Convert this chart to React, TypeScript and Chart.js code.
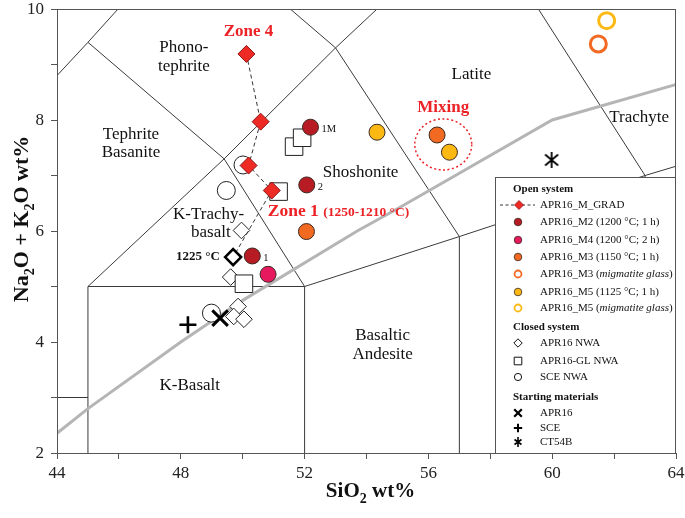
import React, { useEffect, useRef } from 'react';
import { Chart, registerables } from 'chart.js';

Chart.register(...registerables);

const FONT = '"Liberation Serif", "Times New Roman", serif';

// ---------- axes ----------
const SIO2_MIN = 44;
const SIO2_MAX = 64;
const SIO2_STEP = 2;
const SIO2_LABELS = [44, 48, 52, 56, 60, 64];
const ALK_MIN = 2;
const ALK_MAX = 10;
const ALK_STEP = 1;
const ALK_LABELS = [2, 4, 6, 8, 10];

// ---------- open system ----------
const GRAD_SIO2 = [50.12, 50.58, 50.19, 50.94];
const GRAD_ALK = [9.19, 7.97, 7.18, 6.73];
const GRAD_1225_SIO2 = [49.69];
const GRAD_1225_ALK = [5.53];
const M2_SIO2 = [52.19, 52.07, 50.31];
const M2_ALK = [7.87, 6.83, 5.55];
const M2_TAGS = ['1M', '2', '1'];
const M4_SIO2 = [50.82];
const M4_ALK = [5.22];
const M3_SIO2 = [52.06, 56.28];
const M3_ALK = [5.99, 7.73];
const M3_GLASS_SIO2 = [61.49];
const M3_GLASS_ALK = [9.37];
const M5_SIO2 = [54.34, 56.68];
const M5_ALK = [7.78, 7.42];
const M5_GLASS_SIO2 = [61.76];
const M5_GLASS_ALK = [9.79];

// ---------- closed system ----------
const NWA_SIO2 = [49.96, 49.61, 49.85, 49.71, 50.04];
const NWA_ALK = [6.01, 5.17, 4.64, 4.46, 4.41];
const GL_SIO2 = [51.66, 51.92, 51.16, 50.04];
const GL_ALK = [7.52, 7.68, 6.71, 5.05];
const SCE_NWA_SIO2 = [50.01, 49.47, 48.99];
const SCE_NWA_ALK = [7.19, 6.73, 4.52];

// ---------- starting materials ----------
const APR16_SIO2 = [49.27];
const APR16_ALK = [4.43];
const SCE_SIO2 = [48.23];
const SCE_ALK = [4.31];
const CT54B_SIO2 = [59.98];
const CT54B_ALK = [7.28];

// ---------- TAS field boundaries (SiO2, Na2O+K2O) ----------
const TAS_LINES: number[][][] = [
  [[41, 3], [45, 3]],
  [[45, 0], [45, 5]],
  [[45, 5], [52, 5]],
  [[52, 0], [52, 5]],
  [[52, 5], [57, 5.9]],
  [[57, 0], [57, 5.9]],
  [[57, 5.9], [63, 7]],
  [[63, 0], [63, 7]],
  [[63, 7], [69, 8]],
  [[45, 5], [49.4, 7.3]],
  [[49.4, 7.3], [52, 5]],
  [[49.4, 7.3], [53, 9.3]],
  [[53, 9.3], [57, 5.9]],
  [[53, 9.3], [57.6, 11.7]],
  [[57.6, 11.7], [63, 7]],
  [[41, 7], [45, 9.4]],
  [[45, 9.4], [49.4, 7.3]],
  [[45, 9.4], [48.4, 11.5]],
  [[48.4, 11.5], [53, 9.3]],
];
// Irvine & Baragar alkaline / subalkaline divide
const DIVIDE_SIO2 = [43.2, 45, 48, 50, 53.7, 55, 60, 65];
const DIVIDE_ALK = [2, 2.8, 4, 4.75, 6, 6.4, 8, 8.8];

// ---------- field names ----------
const FIELD_NAMES = ['Phono-', 'tephrite', 'Latite', 'Trachyte', 'Tephrite', 'Basanite', 'Shoshonite', 'K-Trachy-', 'basalt', 'Basaltic', 'Andesite', 'K-Basalt'];
const FIELD_SIO2 = [48.1, 48.1, 57.39, 62.81, 46.39, 46.39, 53.81, 48.9, 48.97, 54.52, 54.52, 48.29];
const FIELD_ALK = [9.3, 8.96, 8.82, 8.04, 7.74, 7.42, 7.05, 6.29, 5.97, 4.11, 3.77, 3.21];

// ---------- annotations ----------
const ZONE4_AT = [50.19, 9.59];
const ZONE1_AT = [50.81, 6.35];
const MIXING_AT = [56.48, 8.22];
const T1225_AT = [49.26, 5.54];
const MIX_ELLIPSE = [56.48, 7.56, 0.92, 0.46]; // centre SiO2, centre alk, radius SiO2, radius alk

// ---------- styles ----------
const RED = '#EC2227';
const GRAD_FILL = '#EE2A24';
const GRAD_EDGE = '#8E1313';
const M2_FILL = '#B71C24';
const M4_FILL = '#E6195F';
const M3_FILL = '#F26922';
const M5_FILL = '#FDB913';
const DARK_EDGE = '#3a2a20';
const LINE_COL = '#3a3a3a';

const pts = (xs: number[], ys: number[]) => xs.map((x, i) => ({ x, y: ys[i] }));

type Run = { t: string; size: number; bold?: boolean; italic?: boolean; dy?: number };
const runFont = (r: Run) => `${r.italic ? 'italic ' : ''}${r.bold ? 'bold ' : ''}${r.size}px ${FONT}`;
function drawRuns(ctx: CanvasRenderingContext2D, runs: Run[], x: number, y: number, align: 'left' | 'center' | 'right') {
  let w = 0;
  for (const r of runs) {
    ctx.font = runFont(r);
    w += ctx.measureText(r.t).width;
  }
  let cx = align === 'left' ? x : align === 'center' ? x - w / 2 : x - w;
  ctx.textAlign = 'left';
  for (const r of runs) {
    ctx.font = runFont(r);
    ctx.fillText(r.t, cx, y + (r.dy || 0));
    cx += ctx.measureText(r.t).width;
  }
}

function makeAsterisk(size: number, lw: number): HTMLCanvasElement {
  const c = document.createElement('canvas');
  c.width = size;
  c.height = size;
  const g = c.getContext('2d')!;
  g.strokeStyle = '#000';
  g.lineWidth = lw;
  const m = 2.5;
  g.beginPath();
  g.moveTo(m, m + 1);
  g.lineTo(size - m, size - m - 1);
  g.moveTo(size - m, m + 1);
  g.lineTo(m, size - m - 1);
  g.moveTo(size / 2, 1);
  g.lineTo(size / 2, size - 1);
  g.stroke();
  return c;
}

function drawMarker(ctx: CanvasRenderingContext2D, kind: string, x: number, y: number, o: any) {
  ctx.save();
  ctx.lineWidth = o.lw || 1;
  ctx.strokeStyle = o.stroke || '#000';
  ctx.fillStyle = o.fill || '#fff';
  ctx.beginPath();
  const r = o.r;
  if (kind === 'circle') {
    ctx.arc(x, y, r, 0, Math.PI * 2);
    ctx.fill();
    ctx.stroke();
  } else if (kind === 'diamond') {
    ctx.moveTo(x - r, y);
    ctx.lineTo(x, y - r);
    ctx.lineTo(x + r, y);
    ctx.lineTo(x, y + r);
    ctx.closePath();
    ctx.fill();
    ctx.stroke();
  } else if (kind === 'square') {
    ctx.rect(x - r, y - r, 2 * r, 2 * r);
    ctx.fill();
    ctx.stroke();
  } else if (kind === 'x') {
    ctx.moveTo(x - r, y - r);
    ctx.lineTo(x + r, y + r);
    ctx.moveTo(x + r, y - r);
    ctx.lineTo(x - r, y + r);
    ctx.stroke();
  } else if (kind === 'plus') {
    ctx.moveTo(x - r, y);
    ctx.lineTo(x + r, y);
    ctx.moveTo(x, y - r);
    ctx.lineTo(x, y + r);
    ctx.stroke();
  } else if (kind === 'image') {
    ctx.drawImage(o.img, x - r, y - r, 2 * r, 2 * r);
  }
  ctx.restore();
}

const LS = 11;
const LEGEND_ROWS: any[] = [
  { dy: 12, head: 'Open system' },
  { dy: 28, kind: 'grad', runs: [{ t: 'APR16_M_GRAD', size: LS }] },
  { dy: 45, kind: 'circle', o: { r: 3.8, fill: M2_FILL, stroke: DARK_EDGE, lw: 0.8 }, runs: [{ t: 'APR16_M2 (1200 °C; 1 h)', size: LS }] },
  { dy: 63, kind: 'circle', o: { r: 3.8, fill: M4_FILL, stroke: DARK_EDGE, lw: 0.8 }, runs: [{ t: 'APR16_M4 (1200 °C; 2 h)', size: LS }] },
  { dy: 80, kind: 'circle', o: { r: 3.8, fill: M3_FILL, stroke: DARK_EDGE, lw: 0.8 }, runs: [{ t: 'APR16_M3 (1150 °C; 1 h)', size: LS }] },
  { dy: 97, kind: 'circle', o: { r: 3.5, fill: '#fff', stroke: M3_FILL, lw: 1.8 }, runs: [{ t: 'APR16_M3 (', size: LS }, { t: 'migmatite glass', size: LS, italic: true }, { t: ')', size: LS }] },
  { dy: 115, kind: 'circle', o: { r: 3.8, fill: M5_FILL, stroke: DARK_EDGE, lw: 0.8 }, runs: [{ t: 'APR16_M5 (1125 °C; 1 h)', size: LS }] },
  { dy: 131, kind: 'circle', o: { r: 3.5, fill: '#fff', stroke: M5_FILL, lw: 1.8 }, runs: [{ t: 'APR16_M5 (', size: LS }, { t: 'migmatite glass', size: LS, italic: true }, { t: ')', size: LS }] },
  { dy: 150, head: 'Closed system' },
  { dy: 166, kind: 'diamond', o: { r: 4.2, fill: '#fff', stroke: '#111', lw: 1 }, runs: [{ t: 'APR16 NWA', size: LS }] },
  { dy: 184, kind: 'square', o: { r: 3.8, fill: '#fff', stroke: '#111', lw: 1 }, runs: [{ t: 'APR16-GL NWA', size: LS }] },
  { dy: 200, kind: 'circle', o: { r: 3.6, fill: '#fff', stroke: '#111', lw: 1 }, runs: [{ t: 'SCE NWA', size: LS }] },
  { dy: 220, head: 'Starting materials' },
  { dy: 236, kind: 'x', o: { r: 3.8, stroke: '#000', lw: 2.2 }, runs: [{ t: 'APR16', size: LS }] },
  { dy: 251, kind: 'plus', o: { r: 4.2, stroke: '#000', lw: 2 }, runs: [{ t: 'SCE', size: LS }] },
  { dy: 265, kind: 'image', o: { r: 5 }, runs: [{ t: 'CT54B', size: LS }] },
];

export default function App() {
  const ref = useRef<HTMLCanvasElement>(null);

  useEffect(() => {
    const canvas = ref.current!;
    const asterisk = makeAsterisk(18, 1.8);
    const asteriskSmall = makeAsterisk(12, 1.6);

    const tasPlugin = {
      id: 'tas',
      beforeDatasetsDraw(chart: any) {
        const { ctx, chartArea: a, scales } = chart;
        const X = scales.x, Y = scales.y;
        ctx.save();
        ctx.beginPath();
        ctx.rect(a.left, a.top, a.right - a.left, a.bottom - a.top);
        ctx.clip();
        ctx.strokeStyle = LINE_COL;
        ctx.lineWidth = 1;
        for (const seg of TAS_LINES) {
          ctx.beginPath();
          seg.forEach(([sx, sy], i) => {
            const px = X.getPixelForValue(sx), py = Y.getPixelForValue(sy);
            if (i) ctx.lineTo(px, py); else ctx.moveTo(px, py);
          });
          ctx.stroke();
        }
        ctx.strokeStyle = '#b5b5b5';
        ctx.lineWidth = 3;
        ctx.beginPath();
        DIVIDE_SIO2.forEach((sx, i) => {
          const px = X.getPixelForValue(sx), py = Y.getPixelForValue(DIVIDE_ALK[i]);
          if (i) ctx.lineTo(px, py); else ctx.moveTo(px, py);
        });
        ctx.stroke();
        // field names
        ctx.fillStyle = '#111';
        ctx.font = `17px ${FONT}`;
        ctx.textAlign = 'center';
        ctx.textBaseline = 'middle';
        FIELD_NAMES.forEach((n, i) => {
          ctx.fillText(n, X.getPixelForValue(FIELD_SIO2[i]), Y.getPixelForValue(FIELD_ALK[i]));
        });
        ctx.restore();
      },
      afterDatasetsDraw(chart: any) {
        const { ctx, chartArea: a, scales } = chart;
        const X = scales.x, Y = scales.y;
        ctx.save();
        // mixing ellipse
        const ecx = X.getPixelForValue(MIX_ELLIPSE[0]);
        const ecy = Y.getPixelForValue(MIX_ELLIPSE[1]);
        const erx = Math.abs(X.getPixelForValue(MIX_ELLIPSE[0] + MIX_ELLIPSE[2]) - ecx);
        const ery = Math.abs(Y.getPixelForValue(MIX_ELLIPSE[1] + MIX_ELLIPSE[3]) - ecy);
        ctx.strokeStyle = RED;
        ctx.lineWidth = 1.5;
        ctx.setLineDash([2, 2.5]);
        ctx.beginPath();
        ctx.ellipse(ecx, ecy, erx, ery, 0, 0, Math.PI * 2);
        ctx.stroke();
        ctx.setLineDash([]);

        // annotations
        ctx.textBaseline = 'middle';
        ctx.fillStyle = RED;
        drawRuns(ctx, [{ t: 'Zone 4', size: 17, bold: true }], X.getPixelForValue(ZONE4_AT[0]), Y.getPixelForValue(ZONE4_AT[1]), 'center');
        drawRuns(ctx, [{ t: 'Zone 1 ', size: 17.5, bold: true }, { t: '(1250-1210 °C)', size: 13.5, bold: true, dy: 1 }], X.getPixelForValue(ZONE1_AT[0]), Y.getPixelForValue(ZONE1_AT[1]), 'left');
        drawRuns(ctx, [{ t: 'Mixing', size: 17, bold: true }], X.getPixelForValue(MIXING_AT[0]), Y.getPixelForValue(MIXING_AT[1]), 'center');
        ctx.fillStyle = '#111';
        drawRuns(ctx, [{ t: '1225 °C', size: 13, bold: true }], X.getPixelForValue(T1225_AT[0]), Y.getPixelForValue(T1225_AT[1]), 'right');
        M2_TAGS.forEach((t, i) => {
          drawRuns(ctx, [{ t, size: 10.5 }], X.getPixelForValue(M2_SIO2[i]) + 11, Y.getPixelForValue(M2_ALK[i]) + 2, 'left');
        });

        // plot frame
        ctx.strokeStyle = '#555';
        ctx.lineWidth = 1;
        ctx.strokeRect(a.left + 0.5, a.top + 0.5, a.right - a.left - 1, a.bottom - a.top);

        // legend
        const L = a.right - 181;
        const T = a.top + 168;
        ctx.fillStyle = '#fff';
        ctx.fillRect(L, T, a.right - L, a.bottom - T);
        ctx.strokeStyle = '#555';
        ctx.strokeRect(L + 0.5, T + 0.5, a.right - L - 1, a.bottom - T);
        ctx.fillStyle = '#111';
        ctx.textBaseline = 'middle';
        for (const row of LEGEND_ROWS) {
          const yy = T + row.dy;
          if (row.head) {
            drawRuns(ctx, [{ t: row.head, size: LS, bold: true }], L + 18, yy, 'left');
            continue;
          }
          const mx = L + 23;
          if (row.kind === 'grad') {
            ctx.save();
            ctx.strokeStyle = '#333';
            ctx.lineWidth = 1;
            ctx.setLineDash([3, 2.5]);
            ctx.beginPath();
            ctx.moveTo(L + 5, yy);
            ctx.lineTo(L + 40, yy);
            ctx.stroke();
            ctx.restore();
            drawMarker(ctx, 'diamond', mx + 1, yy, { r: 4.5, fill: GRAD_FILL, stroke: GRAD_EDGE, lw: 0.8 });
          } else if (row.kind === 'image') {
            drawMarker(ctx, 'image', mx, yy, { r: 6, img: asteriskSmall });
          } else {
            drawMarker(ctx, row.kind, mx, yy, row.o);
          }
          ctx.fillStyle = '#111';
          drawRuns(ctx, row.runs, L + 45, yy, 'left');
        }
        ctx.restore();
      },
      afterDraw(chart: any) {
        const { ctx, chartArea: a, scales } = chart;
        const X = scales.x, Y = scales.y;
        ctx.save();
        // tick labels
        ctx.fillStyle = '#222';
        ctx.font = `17px ${FONT}`;
        ctx.textBaseline = 'middle';
        ctx.textAlign = 'center';
        SIO2_LABELS.forEach((v) => ctx.fillText(String(v), X.getPixelForValue(v), a.bottom + 21));
        ctx.textAlign = 'right';
        ALK_LABELS.forEach((v) => ctx.fillText(String(v), a.left - 13, Y.getPixelForValue(v) + 1));
        // axis titles
        ctx.fillStyle = '#111';
        ctx.textBaseline = 'alphabetic';
        drawRuns(ctx, [
          { t: 'SiO', size: 21, bold: true },
          { t: '2', size: 14, bold: true, dy: 6 },
          { t: ' wt%', size: 21, bold: true },
        ], (a.left + a.right) / 2 + 4, 497, 'center');
        ctx.translate(28, 219);
        ctx.rotate(-Math.PI / 2);
        drawRuns(ctx, [
          { t: 'Na', size: 22, bold: true },
          { t: '2', size: 14, bold: true, dy: 6 },
          { t: 'O + K', size: 22, bold: true },
          { t: '2', size: 14, bold: true, dy: 6 },
          { t: 'O wt%', size: 22, bold: true },
        ], 0, 0, 'center');
        ctx.restore();
      },
    };

    const closed = { backgroundColor: '#fff', borderColor: '#222', borderWidth: 1 };

    const chart = new Chart(canvas, {
      type: 'scatter',
      data: {
        datasets: [
          { label: 'APR16_M_GRAD', data: pts(GRAD_SIO2, GRAD_ALK), pointStyle: 'rectRot', pointRadius: 8.5, backgroundColor: GRAD_FILL, borderColor: GRAD_EDGE, borderWidth: 1, order: 0 },
          { label: 'APR16_M2', data: pts(M2_SIO2, M2_ALK), pointStyle: 'circle', pointRadius: 8, backgroundColor: M2_FILL, borderColor: DARK_EDGE, borderWidth: 1, order: 1 },
          { label: 'APR16_M4', data: pts(M4_SIO2, M4_ALK), pointStyle: 'circle', pointRadius: 8, backgroundColor: M4_FILL, borderColor: DARK_EDGE, borderWidth: 1, order: 1 },
          { label: 'APR16_M3', data: pts(M3_SIO2, M3_ALK), pointStyle: 'circle', pointRadius: 8, backgroundColor: M3_FILL, borderColor: DARK_EDGE, borderWidth: 1, order: 1 },
          { label: 'APR16_M3 glass', data: pts(M3_GLASS_SIO2, M3_GLASS_ALK), pointStyle: 'circle', pointRadius: 8, backgroundColor: '#fff', borderColor: M3_FILL, borderWidth: 3, order: 1 },
          { label: 'APR16_M5', data: pts(M5_SIO2, M5_ALK), pointStyle: 'circle', pointRadius: 8, backgroundColor: M5_FILL, borderColor: DARK_EDGE, borderWidth: 1, order: 1 },
          { label: 'APR16_M5 glass', data: pts(M5_GLASS_SIO2, M5_GLASS_ALK), pointStyle: 'circle', pointRadius: 8, backgroundColor: '#fff', borderColor: M5_FILL, borderWidth: 3, order: 1 },
          { label: 'M_GRAD 1225', data: pts(GRAD_1225_SIO2, GRAD_1225_ALK), pointStyle: 'rectRot', pointRadius: 8, backgroundColor: '#fff', borderColor: '#000', borderWidth: 2.6, order: 2 },
          { label: 'M_GRAD path', data: pts([...GRAD_SIO2, ...GRAD_1225_SIO2], [...GRAD_ALK, ...GRAD_1225_ALK]), showLine: true, pointRadius: 0, borderColor: '#333', borderWidth: 1, borderDash: [4, 3], fill: false, tension: 0, order: 3 },
          { label: 'APR16', data: pts(APR16_SIO2, APR16_ALK), pointStyle: 'crossRot', pointRadius: 11, borderColor: '#000', borderWidth: 3, order: 4 },
          { label: 'SCE', data: pts(SCE_SIO2, SCE_ALK), pointStyle: 'cross', pointRadius: 8.5, borderColor: '#000', borderWidth: 2.6, order: 4 },
          { label: 'CT54B', data: pts(CT54B_SIO2, CT54B_ALK), pointStyle: asterisk as any, pointRadius: 9, order: 4 },
          { label: 'APR16-GL NWA', data: pts(GL_SIO2, GL_ALK), pointStyle: 'rect', pointRadius: 12.4, ...closed, order: 5 },
          { label: 'APR16 NWA', data: pts(NWA_SIO2, NWA_ALK), pointStyle: 'rectRot', pointRadius: 8.3, ...closed, order: 6 },
          { label: 'SCE NWA', data: pts(SCE_NWA_SIO2, SCE_NWA_ALK), pointStyle: 'circle', pointRadius: 9, ...closed, order: 7 },
        ] as any,
      },
      options: {
        animation: false,
        responsive: true,
        maintainAspectRatio: false,
        events: [],
        layout: { autoPadding: false, padding: { top: 9, right: 9, left: 0, bottom: 0 } },
        plugins: { legend: { display: false }, tooltip: { enabled: false } },
        scales: {
          x: {
            type: 'linear',
            min: SIO2_MIN,
            max: SIO2_MAX,
            border: { display: false },
            grid: { display: true, drawOnChartArea: false, drawTicks: true, tickLength: 6, color: '#555', lineWidth: 1 },
            ticks: { display: false, stepSize: SIO2_STEP, autoSkip: false },
            afterFit: (s: any) => {
              s.height = 65;
            },
          },
          y: {
            type: 'linear',
            min: ALK_MIN,
            max: ALK_MAX,
            border: { display: false },
            grid: { display: true, drawOnChartArea: false, drawTicks: true, tickLength: 6, color: '#555', lineWidth: 1 },
            ticks: { display: false, stepSize: ALK_STEP, autoSkip: false },
            afterFit: (s: any) => {
              s.width = 57;
            },
          },
        },
      } as any,
      plugins: [tasPlugin],
    });
    return () => chart.destroy();
  }, []);

  return (
    <div style={{ position: 'absolute', left: 0, top: 0, width: 685, height: 518, background: '#fff' }}>
      <canvas ref={ref} />
    </div>
  );
}
